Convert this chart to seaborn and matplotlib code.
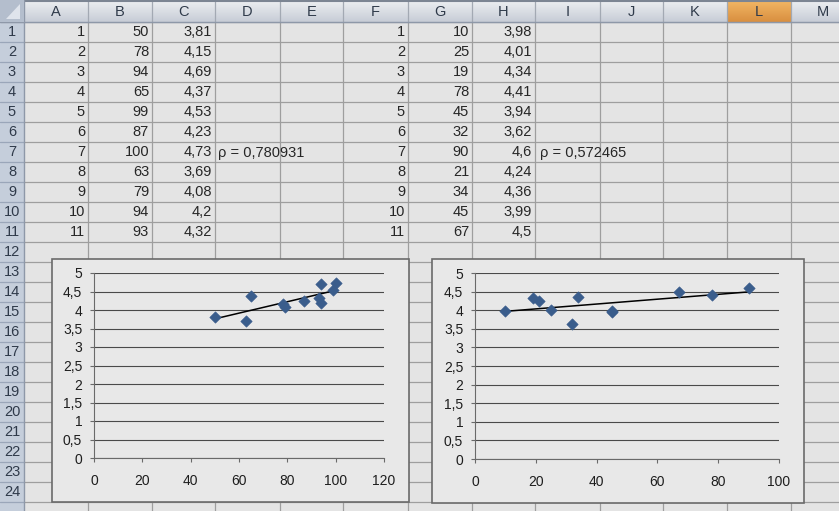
import numpy as np
import matplotlib
matplotlib.use('Agg')
import matplotlib.pyplot as plt
from matplotlib.patches import Rectangle, Polygon
import seaborn as sns
import pandas as pd

# ---------------- data ----------------
col_letters = ['A', 'B', 'C', 'D', 'E', 'F', 'G', 'H', 'I', 'J', 'K', 'L', 'M']
row_numbers = list(range(1, 25))

idx1 = [1, 2, 3, 4, 5, 6, 7, 8, 9, 10, 11]
x1 = [50, 78, 94, 65, 99, 87, 100, 63, 79, 94, 93]
y1 = [3.81, 4.15, 4.69, 4.37, 4.53, 4.23, 4.73, 3.69, 4.08, 4.2, 4.32]

idx2 = [1, 2, 3, 4, 5, 6, 7, 8, 9, 10, 11]
x2 = [10, 25, 19, 78, 45, 32, 90, 21, 34, 45, 67]
y2 = [3.98, 4.01, 4.34, 4.41, 3.94, 3.62, 4.6, 4.24, 4.36, 3.99, 4.5]

rho1_label = 'ρ = 0,780931'
rho2_label = 'ρ = 0,572465'

y_ticks = [0, 0.5, 1, 1.5, 2, 2.5, 3, 3.5, 4, 4.5, 5]
y_tick_labels = ['0', '0,5', '1', '1,5', '2', '2,5', '3', '3,5', '4', '4,5', '5']
x1_ticks = [0, 20, 40, 60, 80, 100, 120]
x2_ticks = [0, 20, 40, 60, 80, 100]

# ---------------- style ----------------
sns.set_theme(style='white')
plt.rcParams['font.family'] = ['Liberation Sans Narrow', 'Liberation Sans', 'DejaVu Sans']

W, H = 839, 511
fig = plt.figure(figsize=(W / 100, H / 100), dpi=100)
bg = fig.add_axes([0, 0, 1, 1])
bg.set_xlim(0, W)
bg.set_ylim(H, 0)
bg.axis('off')

col_edges = [24, 88, 152, 215, 280, 343, 408, 472, 535, 600, 663, 727, 791, 855]
header_h = 22
row_h = 20
cell_fs = 10.5
txt_col = '#262626'


def row_top(r):
    return header_h + row_h * (r - 1)


def row_mid(r):
    return row_top(r) + row_h / 2


def fmt(v):
    return str(v).replace('.', ',')


# cell background
bg.add_patch(Rectangle((24, header_h), W - 24, H - header_h, fc='#e4e4e4', ec='none', zorder=0))
# gridlines
for xe in col_edges[1:]:
    bg.plot([xe, xe], [header_h, H], color='#9e9e9e', lw=0.9, zorder=1)
for r in range(1, 26):
    bg.plot([24, W], [row_top(r), row_top(r)], color='#9e9e9e', lw=0.9, zorder=1)

# header row gradient
grad = np.linspace(0, 1, 50).reshape(-1, 1)
top_c = np.array([0.93, 0.94, 0.95])
bot_c = np.array([0.78, 0.80, 0.84])
img = top_c[None, None, :] * (1 - grad[:, :, None]) + bot_c[None, None, :] * grad[:, :, None]
bg.imshow(img, extent=(24, W, header_h, 0), aspect='auto', zorder=2)
# L column highlighted
ot = np.array([0.95, 0.72, 0.40])
ob = np.array([0.85, 0.56, 0.25])
oimg = ot[None, None, :] * (1 - grad[:, :, None]) + ob[None, None, :] * grad[:, :, None]
bg.imshow(oimg, extent=(col_edges[11], col_edges[12], header_h, 0), aspect='auto', zorder=2.1)
for xe in col_edges[1:]:
    bg.plot([xe, xe], [0, header_h], color='#a3a9b3', lw=0.9, zorder=2.2)
bg.plot([0, W], [header_h, header_h], color='#8e98a8', lw=1.0, zorder=2.3)
bg.plot([0, W], [0.8, 0.8], color='#7c8593', lw=1.5, zorder=2.3)

# row header column
bg.add_patch(Rectangle((0, header_h), 24, H - header_h, fc='#c5cedb', ec='none', zorder=2))
for r in range(1, 26):
    bg.plot([0, 24], [row_top(r), row_top(r)], color='#9aa6b9', lw=0.9, zorder=2.2)
bg.plot([24, 24], [0, H], color='#8e98a8', lw=1.0, zorder=2.3)
# corner
bg.add_patch(Rectangle((0, 0), 24, header_h, fc='#b4becd', ec='none', zorder=2.4))
bg.add_patch(Polygon([[20, 4], [20, 19], [6, 19]], closed=True, fc='#dfe4ec', ec='none', zorder=2.5))

for i, letter in enumerate(col_letters):
    xm = (col_edges[i] + col_edges[i + 1]) / 2
    bg.text(xm, header_h / 2 + 1, letter, ha='center', va='center', fontsize=cell_fs, color='#2f3a4a', zorder=3)
for r in row_numbers:
    bg.text(12, row_mid(r) + 0.5, str(r), ha='center', va='center', fontsize=cell_fs, color='#2f3a4a', zorder=3)

# table values
for i in range(len(idx1)):
    r = i + 1
    ym = row_mid(r) + 0.5
    bg.text(col_edges[1] - 3, ym, fmt(idx1[i]), ha='right', va='center', fontsize=cell_fs, color=txt_col, zorder=3)
    bg.text(col_edges[2] - 3, ym, fmt(x1[i]), ha='right', va='center', fontsize=cell_fs, color=txt_col, zorder=3)
    bg.text(col_edges[3] - 3, ym, fmt(y1[i]), ha='right', va='center', fontsize=cell_fs, color=txt_col, zorder=3)
    bg.text(col_edges[6] - 3, ym, fmt(idx2[i]), ha='right', va='center', fontsize=cell_fs, color=txt_col, zorder=3)
    bg.text(col_edges[7] - 3, ym, fmt(x2[i]), ha='right', va='center', fontsize=cell_fs, color=txt_col, zorder=3)
    bg.text(col_edges[8] - 3, ym, fmt(y2[i]), ha='right', va='center', fontsize=cell_fs, color=txt_col, zorder=3)
bg.text(col_edges[3] + 3, row_mid(7) + 0.5, rho1_label, ha='left', va='center', fontsize=cell_fs, color=txt_col, zorder=3)
bg.text(col_edges[8] + 5, row_mid(7) + 0.5, rho2_label, ha='left', va='center', fontsize=cell_fs, color=txt_col, zorder=3)

# chart boxes
chart_fc = '#e8e8e8'
bg.add_patch(Rectangle((52, 259), 357, 243, fc=chart_fc, ec='#6a6a6a', lw=1.2, zorder=4))
bg.add_patch(Rectangle((432, 259), 372, 244, fc=chart_fc, ec='#6a6a6a', lw=1.2, zorder=4))


def px_axes(xa, xb, ytop, ybot):
    return fig.add_axes([xa / W, 1 - ybot / H, (xb - xa) / W, (ybot - ytop) / H])


df1 = pd.DataFrame({'x': x1, 'y': y1})
df2 = pd.DataFrame({'x': x2, 'y': y2})

mcol = '#3a5d8c'
for ax_box, df, xt, xmax in [((94, 384, 273, 458), df1, x1_ticks, 120),
                             ((475, 779, 273, 459), df2, x2_ticks, 100)]:
    ax = px_axes(*ax_box)
    ax.set_facecolor('none')
    sns.regplot(data=df, x='x', y='y', scatter=False, ci=None, color='black',
                line_kws={'lw': 1.1, 'zorder': 3}, ax=ax, truncate=True)
    sns.scatterplot(data=df, x='x', y='y', marker='D', s=34, color=mcol,
                    edgecolor=mcol, linewidth=0.4, ax=ax, legend=False, zorder=4, clip_on=False)
    ax.set_xlim(0, xmax)
    ax.set_ylim(0, 5)
    ax.set_xticks(xt)
    ax.set_xticklabels([str(v) for v in xt])
    ax.set_yticks(y_ticks)
    ax.set_yticklabels(y_tick_labels)
    ax.set_xlabel('')
    ax.set_ylabel('')
    ax.yaxis.grid(True, color='#4a4a4a', lw=0.8)
    ax.xaxis.grid(False)
    ax.set_axisbelow(True)
    for s in ['top', 'right']:
        ax.spines[s].set_visible(False)
    for s in ['left', 'bottom']:
        ax.spines[s].set_color('#6a6a6a')
        ax.spines[s].set_linewidth(0.8)
    ax.tick_params(axis='y', direction='out', length=3, width=0.8, color='#6a6a6a',
                   pad=5.5, labelsize=10, labelcolor='#1e1e1e', left=True)
    ax.tick_params(axis='x', direction='out', length=3, width=0.8, color='#6a6a6a',
                   pad=8.5, labelsize=10, labelcolor='#1e1e1e', bottom=True)

fig.savefig('out.png', dpi=100)
